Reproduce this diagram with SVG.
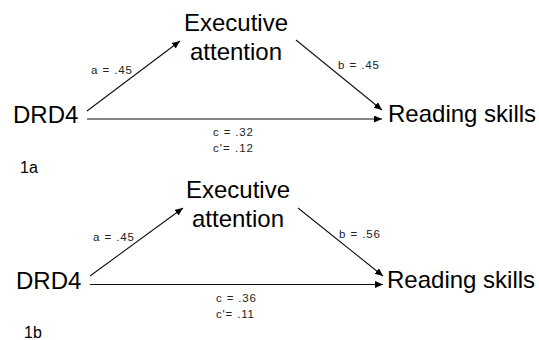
<svg xmlns="http://www.w3.org/2000/svg" width="539" height="340" viewBox="0 0 539 340">
  <style>
    .big { font-family: "Liberation Sans", Arial, sans-serif; font-size: 24px; fill: #000; }
    .lbl { font-family: "Liberation Sans", Arial, sans-serif; font-size: 11.5px; fill: #222; }
    .fig { font-family: "Liberation Sans", Arial, sans-serif; font-size: 16px; fill: #000; }
    .edge { stroke: #111; stroke-width: 1.1; fill: none; marker-end: url(#ah); }
  </style>
  <defs>
    <marker id="ah" markerUnits="userSpaceOnUse" markerWidth="9" markerHeight="8" refX="8" refY="3.5" orient="auto">
      <path d="M0,0 L8,3.5 L0,7 z" fill="#000"/>
    </marker>
  </defs>
  <rect width="539" height="340" fill="#fff"/>

  <!-- Panel 1a -->
  <g id="connectors-1a">
    <line class="edge" x1="87" y1="111" x2="180" y2="41"/>
    <line class="edge" x1="296" y1="40" x2="382" y2="110"/>
    <line class="edge" x1="87" y1="119" x2="382" y2="119"/>
    <text class="lbl" x="91" y="74" textLength="41">a = .45</text>
    <text class="lbl" x="338" y="69" textLength="41">b = .45</text>
    <text class="lbl" x="213" y="136" textLength="40">c = .32</text>
    <text class="lbl" x="213" y="152" textLength="40">c'= .12</text>
  </g>
  <g id="exec-1a">
    <text class="big" x="236" y="31" text-anchor="middle">Executive</text>
    <text class="big" x="236" y="60" text-anchor="middle">attention</text>
  </g>
  <g id="drd4-1a"><text class="big" x="13" y="123">DRD4</text></g>
  <g id="reading-1a"><text class="big" x="388" y="122">Reading skills</text></g>
  <g id="label-1a"><text class="fig" x="20" y="173">1a</text></g>

  <!-- Panel 1b -->
  <g id="connectors-1b">
    <line class="edge" x1="90" y1="276" x2="183" y2="208"/>
    <line class="edge" x1="298" y1="208" x2="383" y2="276"/>
    <line class="edge" x1="90" y1="284.5" x2="383" y2="284.5"/>
    <text class="lbl" x="93" y="241" textLength="41">a = .45</text>
    <text class="lbl" x="339" y="238" textLength="41">b = .56</text>
    <text class="lbl" x="216" y="302" textLength="40">c = .36</text>
    <text class="lbl" x="216" y="318" textLength="38">c'= .11</text>
  </g>
  <g id="exec-1b">
    <text class="big" x="238" y="198" text-anchor="middle">Executive</text>
    <text class="big" x="238" y="227" text-anchor="middle">attention</text>
  </g>
  <g id="drd4-1b"><text class="big" x="16" y="289">DRD4</text></g>
  <g id="reading-1b"><text class="big" x="387" y="288">Reading skills</text></g>
  <g id="label-1b"><text class="fig" x="24" y="338">1b</text></g>
</svg>
